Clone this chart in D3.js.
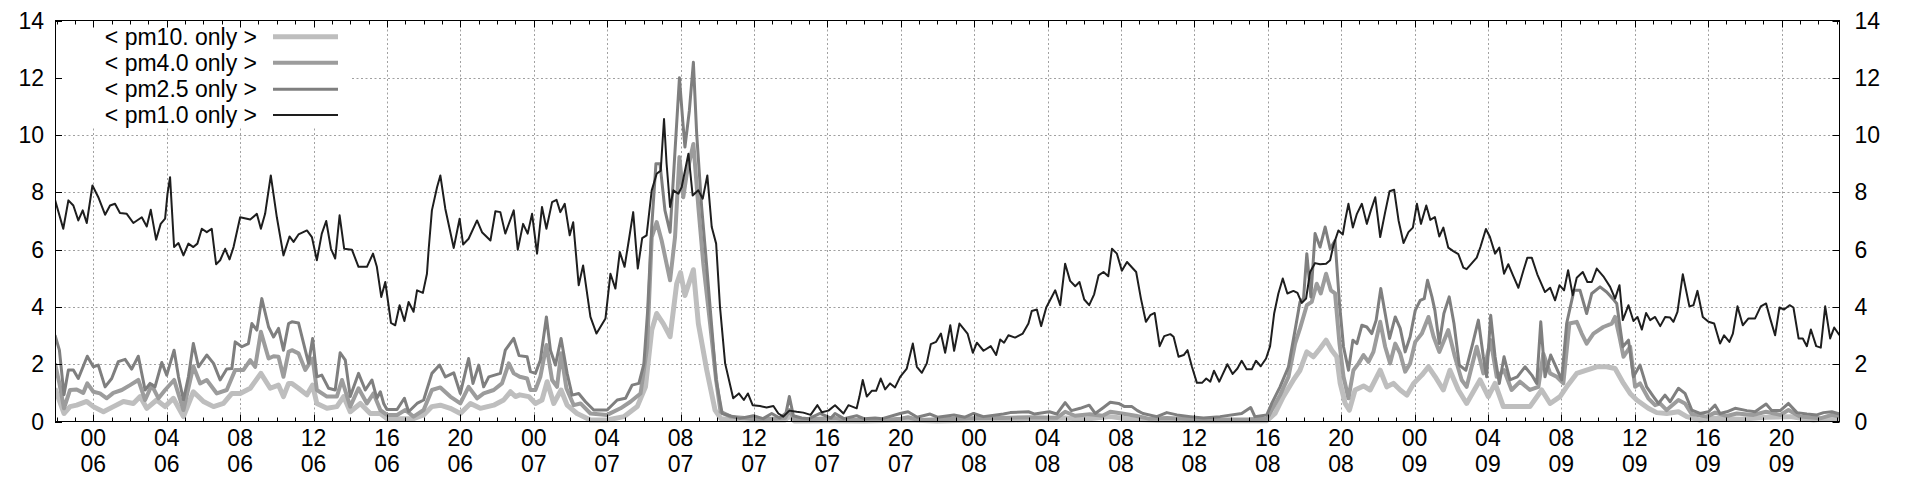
<!DOCTYPE html>
<html><head><meta charset="utf-8">
<script src="https://cdn.jsdelivr.net/npm/d3@7"></script>
<style>
html,body{margin:0;padding:0;background:#fff;}
svg{display:block;font-family:"Liberation Sans",Arial,Helvetica,sans-serif;}
</style></head><body>
<svg id="chart" width="1920" height="480"></svg>
<script>
// ---- data (hours relative to day 06, 00:00 ; concentration) ----
const dayStart = new Date(2020, 5, 6, 0, 0, 0);
const xDomainHours = [-2.09, 95.16];
const yTicks = [0, 2, 4, 6, 8, 10, 12, 14];
const majorTickHours = 4;
const seriesLabels = ["< pm10. only >", "< pm4.0 only >", "< pm2.5 only >", "< pm1.0 only >"];

const pm10 = [[-2.09,1.16],[-1.6,0.28],[-1.27,0.52],[-0.91,0.57],[-0.36,0.7],[0,0.52],[0.55,0.34],[1.09,0.52],[1.64,0.7],[2.18,0.63],[2.55,0.87],[2.91,0.46],[3.45,0.75],[3.91,0.52],[4.36,0.81],[4.91,0.17],[5.45,1.04],[6.0,0.7],[6.55,0.52],[7.09,0.63],[7.55,0.98],[8.0,0.98],[8.55,1.16],[9.13,1.68],[9.64,1.16],[10.09,1.27],[10.36,0.87],[10.64,1.33],
[10.82,1.33],[11.18,1.16],[11.64,0.93],[11.95,1.27],[12.18,0.63],[12.73,0.46],[13.27,0.52],[13.64,0.87],[14.0,0.34],[14.55,0.63],[15.09,0.28],[15.64,0.28],[16.0,0.1],[17.45,0.1],[18.0,0.23],[18.45,0.52],[18.91,0.57],[19.45,0.46],[20.0,0.28],[20.55,0.63],[21.09,0.46],[21.82,0.57],[22.36,0.75],[22.73,1.04],[23.0,0.87],[23.24,0.93],
[23.73,0.87],[24.09,0.63],[24.45,0.75],[24.73,1.39],[25.09,0.63],[25.49,1.1],[25.82,0.57],[26.36,0.28],[27.09,0.05],[28.0,0.05],[28.91,0.17],[29.64,0.52],[30.09,1.21],[30.43,3.19],[30.7,3.77],[31.06,3.42],[31.43,2.96],[31.79,4.81],[32.0,5.2],[32.24,4.4],[32.7,5.3],[32.97,3.42],[33.43,1.79],[33.88,0.4],[34.2,0.1],[35.8,0.05],
[37.7,0.05],[37.93,0.2],[38.2,0.02],[40,0.03],[42,0.02],[44.4,0.05],[46,0.02],[48.2,0.05],[50,0.05],[52.96,0.12],[54,0.08],[55.42,0.17],[56.5,0.08],[58,0.04],[61,0.03],
[63.95,0.03],[64.4,0.28],[64.85,0.87],[65.4,1.45],[65.76,1.79],[66.13,2.43],[66.49,2.26],[66.85,2.55],[67.18,2.84],[67.49,2.49],[67.76,2.26],[67.95,1.33],[68.22,0.63],[68.45,0.4],[68.76,1.1],[69.22,1.24],[69.58,1.1],[70.13,1.79],[70.49,1.21],[70.85,1.33],[71.22,1.1],[71.58,0.92],[71.95,1.33],[72.4,1.62],[72.76,1.91],[73.13,1.56],
[73.57,1.1],[73.93,1.79],[74.39,1.1],[74.84,0.63],[75.57,1.45],[76.02,0.87],[76.39,1.33],[76.84,0.52],[77.57,0.52],[78.29,0.52],[78.93,1.1],[79.39,0.63],[79.93,0.87],[80.29,1.21],[80.84,1.68],[81.38,1.79],[81.93,1.91],[82.47,1.91],[82.93,1.85],[83.39,1.33],[83.75,0.98],[84.11,0.75],
[84.74,0.46],[85.2,0.31],[85.74,0.28],[86.38,0.34],[86.84,0.17],[87.56,0.05],[88.38,0.11],[89.74,0.08],[91.2,0.15],[92.47,0.17],[93.74,0.05],[94.74,0.11],[95.16,0.08]];

const pm4 = [[-2.09,2.03],[-1.85,1.33],[-1.6,0.46],[-1.27,1.1],[-0.91,1.12],[-0.55,1.0],[-0.33,1.33],[0,1.04],[0.36,0.98],[0.73,0.81],[1.09,1.0],[1.55,1.1],[2.0,1.27],[2.45,1.45],[2.82,0.75],[3.18,1.27],[3.55,0.81],[3.91,1.1],[4.4,1.45],[4.91,0.4],[5.45,1.93],[5.82,1.33],[6.18,1.45],[6.73,0.98],[7.27,1.1],[7.73,1.8],[8.18,1.8],[8.55,2.14],[8.82,1.91],[9.13,3.13],[9.55,2.2],[9.82,2.28],[10.09,2.26],[10.36,1.56],[10.64,2.43],
[10.82,2.49],[11.18,2.38],[11.55,1.8],[11.95,2.2],[12.18,1.1],[12.73,0.87],[13.27,0.87],[13.55,1.45],[14.0,0.52],[14.45,1.16],[14.91,0.63],[15.27,0.98],[15.64,0.4],[16.0,0.23],[16.55,0.23],[17.0,0.4],[17.45,0.17],[18.0,0.4],[18.45,1.1],[18.91,1.19],[19.45,0.87],[20.0,0.63],[20.45,1.21],[20.91,0.81],[21.27,0.98],[21.82,1.1],[22.27,1.33],[22.64,2.03],[22.91,1.68],[23.24,1.56],
[23.64,1.5],[23.82,1.1],[24.09,1.1],[24.36,1.56],[24.69,2.67],[25.0,1.45],[25.27,1.21],[25.49,2.38],[25.78,1.16],[26.18,0.57],[26.55,0.63],[27.09,0.28],[28.0,0.23],[28.73,0.46],[29.27,0.69],[29.82,0.98],[30.18,2.6],[30.43,6.44],[30.7,6.96],[30.97,6.32],[31.43,4.93],[31.7,6.44],[31.94,9.23],[32.15,7.83],[32.34,8.65],[32.7,9.69],[32.97,7.49],[33.24,5.51],[33.61,3.42],[33.94,1.45],[34.18,0.34],[34.73,0.17],[35.5,0.12],
[36.0,0.08],[37.0,0.1],[37.7,0.12],[37.93,0.4],[38.2,0.08],[39.5,0.1],[40.4,0.12],[41,0.05],[42,0.05],[43,0.05],[44.0,0.1],[44.4,0.15],[45,0.05],[46,0.08],[47,0.1],[48.2,0.12],
[49.5,0.12],[51,0.15],[52.5,0.13],[52.96,0.34],[53.5,0.2],[54.3,0.25],[55.0,0.2],[55.42,0.34],[56.05,0.28],[56.8,0.2],[57.5,0.1],[58.5,0.12],[60.0,0.08],[61.0,0.07],
[63.0,0.08],[63.95,0.1],[64.22,0.4],[64.67,0.92],[65.13,1.56],[65.49,2.72],[65.76,3.25],[66.13,4.06],[66.4,4.18],[66.67,4.81],[66.89,4.47],[67.18,5.16],[67.44,4.58],[67.67,4.47],[67.91,2.72],[68.13,1.56],[68.4,0.81],[68.67,1.79],[68.95,2.03],[69.22,2.32],[69.49,2.08],[69.76,2.43],[70.13,3.48],[70.4,2.61],[70.67,2.03],[70.95,2.72],[71.22,2.37],[71.49,1.74],[71.76,2.03],[72.04,2.78],[72.4,3.07],[72.76,3.65],[73.04,2.96],
[73.35,2.43],[73.84,3.19],[74.2,2.26],[74.57,1.45],[74.84,1.21],[75.39,2.61],[75.75,1.68],[76.15,2.84],[76.48,1.56],[76.88,1.79],[77.29,1.1],[77.75,1.39],[78.29,1.1],[78.75,1.21],[79.02,2.37],[79.39,1.68],[79.75,1.56],[80.11,1.33],[80.44,3.42],[80.84,3.48],[81.11,3.07],[81.38,2.72],[81.75,3.07],[82.29,3.3],[82.75,3.42],[82.93,3.65],[83.17,2.96],[83.39,2.26],[83.75,2.61],[84.02,1.21],[84.29,1.33],
[84.74,0.81],[85.11,0.57],[85.38,0.63],[85.74,0.4],[86.38,0.75],[86.74,0.63],[87.11,0.26],[87.93,0.17],[88.38,0.31],[89.02,0.19],[89.56,0.28],[90.47,0.23],[91.16,0.34],[91.93,0.23],[92.38,0.4],[93.02,0.17],[94.11,0.11],[94.74,0.23],[95.16,0.17]];

const pm25 = [[-2.09,3.01],[-1.85,2.49],[-1.6,0.93],[-1.36,1.8],[-1.09,1.8],[-0.82,1.5],[-0.33,2.28],[0,1.91],[0.27,1.97],[0.64,1.21],[1.0,1.5],[1.36,2.09],[1.73,2.17],[2.09,1.83],[2.45,2.28],[2.82,1.1],[3.09,1.33],[3.36,1.21],[3.73,2.06],[4.0,1.62],[4.4,2.49],[4.64,1.56],[4.91,0.75],[5.18,1.56],[5.45,2.72],[5.73,1.91],[6.18,2.32],[6.55,2.03],[6.91,1.45],[7.27,1.83],[7.55,1.85],[7.73,2.78],[8.09,2.61],[8.45,2.72],[8.64,3.42],[8.91,3.19],[9.18,4.29],[9.55,3.3],[9.82,2.95],[10.09,3.25],[10.36,2.49],[10.64,3.42],
[10.82,3.48],[11.18,3.44],[11.55,2.49],[11.73,2.03],[11.95,2.9],[12.18,1.56],[12.45,1.62],[12.82,1.16],[13.18,1.1],[13.45,2.4],[13.73,2.14],[14.0,0.87],[14.45,1.68],[14.82,1.1],[15.18,1.45],[15.45,0.81],[15.64,1.04],[15.82,0.63],[16.0,0.42],[16.55,0.42],[16.95,0.81],[17.18,0.34],[17.64,0.63],[18.0,0.75],[18.45,1.68],[18.87,1.97],[19.18,1.56],[19.64,1.7],[20.0,0.98],[20.45,2.2],[20.69,1.33],[21.0,1.97],[21.27,1.21],[21.55,1.56],[22.18,1.68],[22.45,2.49],[22.91,2.9],[23.2,2.3],
[23.64,2.26],[23.82,1.74],[24.09,1.68],[24.36,2.14],[24.69,3.65],[24.91,2.49],[25.18,1.97],[25.49,2.9],[25.82,1.68],[26.09,0.92],[26.45,0.98],[26.82,0.69],[27.27,0.4],[28.0,0.4],[28.55,0.75],[29.0,0.81],[29.36,1.27],[29.73,1.33],[30.0,2.0],[30.2,3.8],[30.43,6.8],[30.66,9.0],[30.88,9.0],[31.15,7.37],[31.43,6.61],[31.7,9.46],[31.94,12.0],[32.12,10.5],[32.24,9.58],[32.48,10.85],[32.7,12.54],[32.88,10.04],[33.15,7.49],[33.43,5.4],[33.7,3.3],[33.94,1.45],[34.27,0.28],[34.73,0.19],[35.24,0.11],
[35.97,0.2],[36.5,0.1],[36.97,0.28],[37.4,0.12],[37.75,0.3],[37.93,0.87],[38.15,0.2],[38.6,0.12],[39.0,0.1],[39.6,0.28],[40.2,0.12],[40.42,0.28],[40.9,0.1],[41.6,0.2],[42.0,0.1],[42.6,0.12],[43.0,0.1],[43.97,0.28],[44.4,0.34],[44.9,0.15],[45.6,0.26],[46.0,0.15],[46.9,0.23],[47.5,0.15],[47.97,0.28],
[48.5,0.17],[49.6,0.26],[49.97,0.31],[50.96,0.34],[51.3,0.26],[52.1,0.34],[52.5,0.26],[52.96,0.66],[53.3,0.38],[53.78,0.46],[54.27,0.57],[54.6,0.28],[55.05,0.49],[55.42,0.67],[55.87,0.63],[56.2,0.52],[56.6,0.52],[56.9,0.38],[57.2,0.28],[57.96,0.17],[58.5,0.31],[59.05,0.23],[59.78,0.17],[60.5,0.12],
[61.4,0.17],[62.58,0.28],[63.07,0.49],[63.3,0.17],[63.95,0.23],[64.22,0.63],[64.67,1.21],[65.13,1.91],[65.49,3.19],[65.76,4.18],[65.95,4.29],[66.13,5.86],[66.35,4.35],[66.58,6.56],[66.85,6.09],[67.13,6.79],[67.4,6.03],[67.67,6.32],[67.91,4.12],[68.13,2.61],[68.4,1.79],[68.64,2.84],[68.86,2.72],[69.13,3.36],[69.4,3.3],[69.67,3.07],[69.91,3.54],[70.16,4.64],[70.4,3.77],[70.64,2.9],[70.95,3.65],[71.22,3.25],[71.49,2.43],[71.76,2.96],[72.04,3.88],[72.31,4.23],[72.53,4.29],[72.71,4.93],[72.95,4.35],
[73.11,3.88],[73.35,2.72],[73.6,3.77],[73.89,4.35],[74.15,3.42],[74.44,1.97],[74.8,1.79],[75.17,2.72],[75.48,3.54],[75.75,2.26],[75.93,1.56],[76.15,3.71],[76.39,2.26],[76.62,1.33],[76.88,2.26],[77.2,1.45],[77.6,1.56],[78.02,1.91],[78.39,1.62],[78.66,1.33],[78.88,3.48],[79.11,1.56],[79.42,2.32],[79.71,1.91],[80.02,1.45],[80.29,3.42],[80.69,4.58],[81.02,4.58],[81.38,3.77],[81.66,4.47],[82.11,4.7],[82.47,4.52],[82.8,4.29],[83.02,4.12],[83.35,2.61],[83.66,2.84],[83.93,1.56],[84.29,1.97],
[84.65,1.21],[85.02,0.87],[85.29,0.63],[85.65,0.92],[85.93,0.69],[86.38,1.16],[86.74,0.98],[87.11,0.4],[87.56,0.28],[88.02,0.34],[88.38,0.57],[88.65,0.28],[89.02,0.34],[89.47,0.46],[90.11,0.38],[90.56,0.34],[91.16,0.61],[91.47,0.38],[91.93,0.38],[92.38,0.63],[92.84,0.31],[93.38,0.26],[93.93,0.23],[94.29,0.31],[94.74,0.34],[95.16,0.26]];

const pm1 = [[-2.09,7.74],[-1.64,6.73],[-1.36,7.72],[-1.09,7.54],[-0.82,7.02],[-0.58,7.37],[-0.36,6.93],[-0.05,8.24],[0.27,7.83],[0.64,7.22],[0.91,7.54],[1.18,7.6],[1.45,7.28],[1.82,7.25],[2.18,6.93],[2.64,7.13],[2.91,6.81],[3.13,7.39],[3.42,6.35],[3.67,6.9],[3.91,7.08],[4.04,7.95],[4.18,8.53],[4.4,6.09],[4.64,6.23],[4.91,5.8],[5.18,6.21],[5.45,6.09],[5.67,6.21],[5.91,6.73],[6.18,6.61],[6.45,6.73],[6.69,5.49],[6.91,5.63],[7.18,6.03],[7.42,5.66],[7.64,6.09],[8.0,7.13],[8.55,7.05],[8.91,7.25],[9.13,6.73],[9.36,7.25],[9.67,8.59],[10.0,7.13],[10.36,5.8],[10.69,6.46],
[10.91,6.27],[11.18,6.53],[11.64,6.67],[11.91,6.44],[12.18,5.63],[12.45,6.56],[12.69,7.0],[12.95,6.03],[13.18,5.69],[13.42,7.2],[13.67,6.03],[14.09,6.0],[14.45,5.4],[14.91,5.4],[15.24,5.86],[15.45,5.4],[15.69,4.35],[15.91,4.87],[16.22,3.44],[16.45,3.36],[16.69,4.06],[16.95,3.51],[17.18,4.17],[17.45,3.83],[17.64,4.58],[17.96,4.49],[18.18,5.16],[18.27,5.98],[18.45,7.37],[18.73,8.18],[18.91,8.59],[19.18,7.43],[19.64,6.06],[19.96,7.08],[20.15,6.18],[20.45,6.38],[20.91,7.02],[21.18,6.61],[21.64,6.32],[21.91,7.34],[22.18,7.31],[22.45,6.56],[22.91,7.37],[23.13,6.0],
[23.42,6.9],[23.67,6.56],[23.91,7.25],[24.18,5.86],[24.45,7.49],[24.69,6.73],[25.0,7.66],[25.24,7.74],[25.45,7.31],[25.69,7.6],[25.96,6.5],[26.15,6.96],[26.45,4.76],[26.69,5.45],[27.09,3.65],[27.42,3.07],[27.91,3.6],[28.18,5.16],[28.45,4.64],[28.69,5.92],[28.95,5.4],[29.18,6.32],[29.42,7.31],[29.67,5.34],[29.91,6.4],[30.15,6.5],[30.43,8.07],[30.7,8.65],[30.92,8.76],[31.1,10.56],[31.24,9.0],[31.43,7.49],[31.61,8.07],[31.88,7.95],[32.06,8.18],[32.43,9.35],[32.66,7.89],[32.97,8.07],[33.21,7.78],[33.46,8.59],[33.7,6.79],[33.94,6.21],[34.15,4.0],[34.43,2.03],[34.87,0.81],[35.18,0.98],[35.45,0.75],[35.67,0.98],
[35.93,0.57],[36.33,0.54],[36.69,0.49],[37.06,0.54],[37.33,0.28],[37.6,0.17],[37.93,0.38],[38.33,0.34],[38.69,0.31],[39.09,0.23],[39.46,0.57],[39.7,0.32],[40.06,0.38],[40.42,0.57],[40.88,0.28],[41.15,0.57],[41.6,0.46],[41.75,0.87],[41.93,1.45],[42.15,0.87],[42.42,1.07],[42.66,1.07],[42.91,1.5],[43.15,1.12],[43.42,1.33],[43.69,1.19],[43.97,1.56],[44.33,1.85],[44.66,2.72],[44.88,1.91],[45.15,1.7],[45.42,2.03],[45.64,2.7],[45.93,2.78],[46.19,3.07],[46.42,2.4],[46.7,3.36],[46.91,2.47],[47.2,3.42],[47.64,3.07],[47.93,2.4],[48.15,2.75],
[48.51,2.47],[48.91,2.63],[49.2,2.32],[49.42,2.86],[49.63,2.75],[49.87,3.01],[50.23,2.93],[50.65,3.07],[50.96,3.42],[51.14,3.86],[51.42,3.91],[51.65,3.33],[51.93,3.98],[52.42,4.58],[52.69,4.06],[52.96,5.51],[53.23,4.91],[53.51,4.72],[53.74,4.87],[54.0,4.26],[54.27,4.06],[54.54,4.44],[54.78,5.1],[55.05,5.22],[55.31,5.07],[55.51,6.03],[55.78,5.86],[56.05,5.26],[56.33,5.57],[56.83,5.22],[57.09,4.29],[57.36,3.48],[57.6,3.71],[57.84,3.79],[58.11,2.63],[58.36,2.98],[58.69,3.05],[58.87,2.96],[59.14,2.26],[59.42,2.32],[59.63,2.49],[59.87,1.91],[60.14,1.35],[60.42,1.35],[60.65,1.5],[60.87,1.39],
[61.07,1.77],[61.36,1.39],[61.8,2.0],[62.09,1.66],[62.35,1.85],[62.58,2.12],[62.85,1.82],[63.13,1.82],[63.36,2.12],[63.62,1.93],[63.91,2.2],[64.13,2.63],[64.35,3.77],[64.58,4.47],[64.82,4.99],[65.07,4.47],[65.4,4.56],[65.62,4.49],[65.85,4.14],[66.09,4.29],[66.31,5.22],[66.58,5.53],[66.85,5.49],[67.18,5.51],[67.4,5.63],[67.58,6.15],[67.85,6.67],[68.09,6.53],[68.22,7.02],[68.4,7.6],[68.64,6.77],[68.86,7.25],[69.13,7.6],[69.4,6.9],[69.62,7.37],[69.86,7.83],[70.13,6.44],[70.4,7.31],[70.64,8.04],[70.89,8.09],[71.13,7.02],[71.4,6.23],[71.67,6.61],[71.91,6.77],[72.13,7.6],[72.35,6.9],[72.64,7.54],[72.86,7.04],
[73.11,7.14],[73.35,6.46],[73.57,6.77],[73.84,6.07],[74.11,5.95],[74.39,5.84],[74.66,5.37],[74.84,5.32],[75.39,5.72],[75.6,6.11],[75.89,6.72],[76.11,6.44],[76.39,5.86],[76.62,6.07],[76.88,5.16],[77.11,5.49],[77.39,5.07],[77.66,4.67],[77.93,5.26],[78.15,5.72],[78.39,5.72],[78.69,5.14],[79.11,4.52],[79.39,4.67],[79.66,4.23],[79.9,4.76],[80.15,4.58],[80.37,5.28],[80.62,4.41],[80.84,5.02],[81.17,5.22],[81.42,4.87],[81.66,4.87],[81.93,5.34],[82.29,5.07],[82.66,4.7],[82.93,4.29],[83.17,4.76],[83.35,3.54],[83.66,4.06],[83.93,3.51],[84.15,3.65],[84.39,3.21],[84.62,3.79],[84.84,3.54],[85.11,3.65],[85.39,3.33],[85.66,3.65],[85.93,3.63],
[86.11,3.48],[86.33,3.83],[86.62,5.14],[86.98,4.02],[87.2,4.06],[87.42,4.56],[87.71,3.65],[88.02,3.48],[88.33,3.42],[88.65,2.72],[88.87,3.01],[89.16,2.78],[89.35,3.07],[89.6,4.02],[89.89,3.36],[90.2,3.6],[90.56,3.6],[90.87,4.02],[91.16,4.12],[91.38,3.6],[91.65,3.01],[91.89,3.98],[92.14,3.91],[92.44,4.06],[92.65,3.98],[92.93,2.9],[93.16,2.9],[93.38,2.63],[93.6,3.21],[93.89,2.63],[94.14,2.58],[94.38,4.02],[94.65,2.9],[94.87,3.28],[95.16,3.01]];

const seriesData = [pm10, pm4, pm25, pm1];
const seriesColors = ["#bebebe", "#9c9c9c", "#7f7f7f", "#1e1e1e"];
const seriesWidths = [5, 4, 3, 2];

// ---- layout ----
const W = 1920, H = 480;
const plot = {left: 55, right: 1839.5, top: 20.5, bottom: 421.5};
const FONT = 23;

const svg = d3.select("#chart");
const hourToDate = h => new Date(dayStart.getTime() + h * 3600000);

const x = d3.scaleTime()
  .domain(xDomainHours.map(hourToDate))
  .range([plot.left, plot.right]);
const y = d3.scaleLinear().domain([0, 14]).range([plot.bottom, plot.top]);

const majorTicks = x.ticks(d3.timeHour.every(majorTickHours));
const minorTicks = x.ticks(d3.timeHour.every(1));
const crisp = v => Math.round(v) + 0.5;

// grid
const grid = svg.append("g").attr("stroke", "#a0a0a0").attr("stroke-width", 1)
  .attr("stroke-dasharray", "2,2.5");
grid.selectAll("line.v").data(majorTicks).join("line").attr("class", "v")
  .attr("x1", d => crisp(x(d))).attr("x2", d => crisp(x(d)))
  .attr("y1", plot.top).attr("y2", plot.bottom);
grid.selectAll("line.h").data(yTicks.filter(v => v > 0 && v < 14)).join("line").attr("class", "h")
  .attr("x1", plot.left).attr("x2", plot.right)
  .attr("y1", d => crisp(y(d))).attr("y2", d => crisp(y(d)));

// legend background (covers grid)
svg.append("rect").attr("x", 62).attr("y", 21).attr("width", 288).attr("height", 107).attr("fill", "#fff");

// data lines
svg.append("clipPath").attr("id", "clip").append("rect")
  .attr("x", plot.left).attr("y", plot.top)
  .attr("width", plot.right - plot.left).attr("height", plot.bottom - plot.top + 3);
const line = d3.line().x(d => x(hourToDate(d[0]))).y(d => y(d[1]));
const lines = svg.append("g").attr("clip-path", "url(#clip)");
seriesData.forEach((s, i) => {
  lines.append("path").datum(s).attr("d", line)
    .attr("fill", "none").attr("stroke", seriesColors[i])
    .attr("stroke-width", seriesWidths[i])
    .attr("stroke-linejoin", "round").attr("stroke-linecap", "butt");
});

// border
svg.append("rect").attr("x", plot.left + 0.5).attr("y", plot.top)
  .attr("width", plot.right - plot.left - 0.5).attr("height", plot.bottom - plot.top)
  .attr("fill", "none").attr("stroke", "#000").attr("stroke-width", 1);

// ticks
const ticks = svg.append("g").attr("stroke", "#000").attr("stroke-width", 1);
const isMajor = d => d.getHours() % majorTickHours === 0;
ticks.selectAll("line.xb").data(minorTicks).join("line").attr("class", "xb")
  .attr("x1", d => crisp(x(d))).attr("x2", d => crisp(x(d)))
  .attr("y1", plot.bottom).attr("y2", d => plot.bottom - (isMajor(d) ? 7 : 4));
ticks.selectAll("line.xt").data(minorTicks).join("line").attr("class", "xt")
  .attr("x1", d => crisp(x(d))).attr("x2", d => crisp(x(d)))
  .attr("y1", plot.top).attr("y2", d => plot.top + (isMajor(d) ? 7 : 4));
ticks.selectAll("line.yl").data(yTicks).join("line").attr("class", "yl")
  .attr("x1", plot.left).attr("x2", plot.left + 7)
  .attr("y1", d => crisp(y(d))).attr("y2", d => crisp(y(d)));
ticks.selectAll("line.yr").data(yTicks).join("line").attr("class", "yr")
  .attr("x1", plot.right).attr("x2", plot.right - 7)
  .attr("y1", d => crisp(y(d))).attr("y2", d => crisp(y(d)));

// y labels (both sides)
const labels = svg.append("g").attr("font-size", FONT).attr("fill", "#000");
labels.selectAll("text.yl").data(yTicks).join("text").attr("class", "yl")
  .attr("x", plot.left - 11).attr("y", d => y(d)).attr("dy", "0.35em")
  .attr("text-anchor", "end").text(d => d);
labels.selectAll("text.yr").data(yTicks).join("text").attr("class", "yr")
  .attr("x", plot.right + 15).attr("y", d => y(d)).attr("dy", "0.35em")
  .attr("text-anchor", "start").text(d => d);

// x labels: hour / day
const fmtHour = d3.timeFormat("%H"), fmtDay = d3.timeFormat("%d");
const xl = labels.selectAll("text.xl").data(majorTicks).join("text").attr("class", "xl")
  .attr("text-anchor", "middle");
xl.append("tspan").attr("x", d => x(d)).attr("y", 446).text(fmtHour);
xl.append("tspan").attr("x", d => x(d)).attr("y", 472).text(fmtDay);

// legend
const legendRows = [36.7, 62.7, 89.3, 115];
const leg = svg.append("g");
seriesLabels.forEach((lab, i) => {
  leg.append("text").attr("x", 257).attr("y", legendRows[i]).attr("dy", "0.35em")
    .attr("text-anchor", "end").attr("font-size", FONT).text(lab);
  leg.append("line").attr("x1", 273).attr("x2", 338)
    .attr("y1", legendRows[i]).attr("y2", legendRows[i])
    .attr("stroke", seriesColors[i]).attr("stroke-width", seriesWidths[i]);
});
</script>
</body></html>
